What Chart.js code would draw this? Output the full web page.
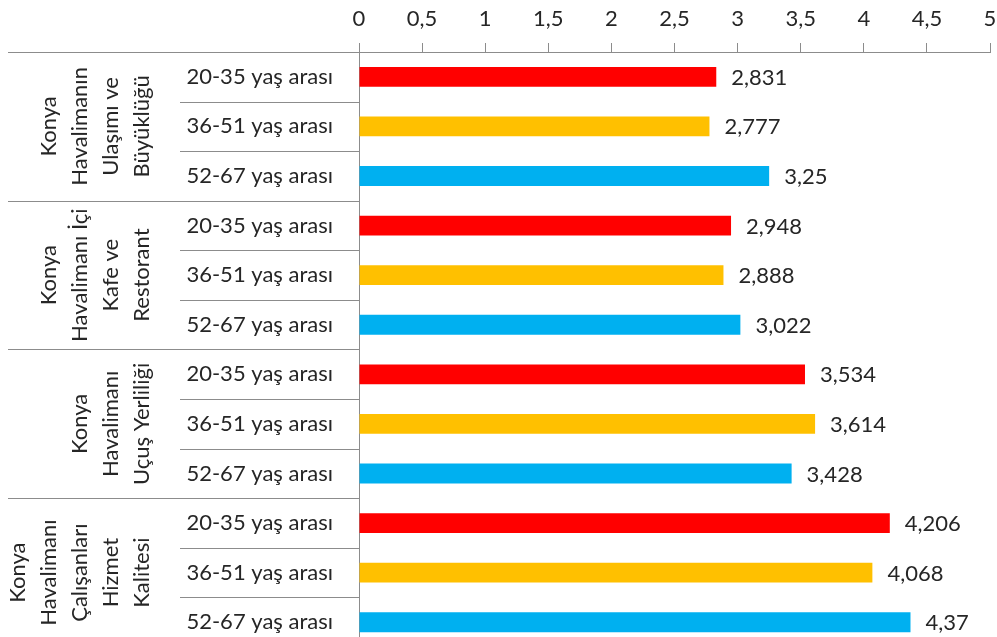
<!DOCTYPE html>
<html>
<head>
  <title>Konya Havalimanı</title>
  <script src="https://cdn.jsdelivr.net/npm/chart.js"></script>
  <style>
    html, body {
      margin: 0;
      padding: 0;
      background: #fff;
      overflow: hidden;
    }
    #wrap {
      width: 997px;
      height: 637px;
      overflow: hidden;
    }
  </style>
</head>
<body>
  <div id="wrap">
    <canvas id="ageChart" width="997" height="660"></canvas>
  </div>

  <script>
    // groups (one per rotated label on the left)
    const groupLabels = [
      ['Konya', 'Havalimanın', 'Ulaşımı ve', 'Büyüklüğü'],
      ['Konya', 'Havalimanı İçi', 'Kafe ve', 'Restorant'],
      ['Konya', 'Havalimanı', 'Uçuş Yerliliği'],
      ['Konya', 'Havalimanı', 'Çalışanları', 'Hizmet', 'Kalitesi']
    ];
    const ageLabels = ['20-35 yaş arası', '36-51 yaş arası', '52-67 yaş arası'];
    const values20_35 = [2.831, 2.948, 3.534, 4.206];
    const values36_51 = [2.777, 2.888, 3.614, 4.068];
    const values52_67 = [3.25, 3.022, 3.428, 4.37];
    const ageColors = ['#FF0000', '#FFC000', '#00B0F0'];
    const xTicks = [0, 0.5, 1, 1.5, 2, 2.5, 3, 3.5, 4, 4.5, 5];

    const FONT = 'Lato';
    const FSIZE = 22;
    const gray = '#8c8c8c';
    const textColor = '#262626';

    const series = [values20_35, values36_51, values52_67];
    const labels = [], data = [], colors = [];
    groupLabels.forEach((g, gi) => {
      ageLabels.forEach((a, ai) => {
        labels.push(a);
        data.push(series[ai][gi]);
        colors.push(ageColors[ai]);
      });
    });

    const fmt = v => String(v).replace('.', ',');

    const sidePlugin = {
      id: 'side',
      afterDraw(chart) {
        const c = chart.ctx;
        const y = chart.scales.y;
        const area = chart.chartArea;
        const step = y.getPixelForValue(1) - y.getPixelForValue(0);
        c.save();
        c.font = FSIZE + 'px ' + FONT;
        c.fillStyle = textColor;
        c.textBaseline = 'middle';

        // age labels
        c.textAlign = 'right';
        labels.forEach((l, i) => {
          c.fillText(l, area.left - 26, y.getPixelForValue(i));
        });

        // separators
        c.strokeStyle = gray;
        c.lineWidth = 1;
        for (let i = 0; i <= labels.length; i++) {
          const py = Math.round(y.getPixelForValue(i) - step / 2) + 0.5;
          const x0 = (i % 3 === 0) ? 8 : 180;
          c.beginPath();
          c.moveTo(x0, py);
          c.lineTo(area.left, py);
          c.stroke();
        }

        // rotated group labels
        c.textAlign = 'center';
        groupLabels.forEach((g, gi) => {
          const cy = (y.getPixelForValue(gi * 3) + y.getPixelForValue(gi * 3 + 2)) / 2;
          g.forEach((line, li) => {
            const lx = 142 - (g.length - 1 - li) * 31;
            c.save();
            c.translate(lx, cy);
            c.rotate(-Math.PI / 2);
            c.fillText(line, 0, 0);
            c.restore();
          });
        });

        // value labels
        c.textAlign = 'left';
        const x = chart.scales.x;
        data.forEach((v, i) => {
          c.fillText(fmt(v), x.getPixelForValue(v) + 15, y.getPixelForValue(i) + 1);
        });
        c.restore();
      }
    };

    new Chart(document.getElementById('ageChart'), {
      type: 'bar',
      data: {
        labels: labels,
        datasets: [{
          data: data,
          backgroundColor: colors,
          barPercentage: 0.4,
          categoryPercentage: 1
        }]
      },
      options: {
        indexAxis: 'y',
        responsive: false,
        animation: false,
        layout: { padding: { left: 0, right: 7, top: 0, bottom: 13 } },
        plugins: {
          legend: { display: false },
          tooltip: { enabled: false }
        },
        scales: {
          x: {
            position: 'top',
            min: 0,
            max: 5,
            afterBuildTicks: s => { s.ticks = xTicks.map(v => ({ value: v })); },
            afterFit: s => { s.height = 52; s.paddingLeft = 0; s.paddingRight = 0; },
            ticks: {
              padding: 11,
              color: textColor,
              font: { family: FONT, size: FSIZE },
              callback: v => fmt(v)
            },
            grid: {
              drawOnChartArea: false,
              drawTicks: true,
              tickLength: 9,
              color: gray
            },
            border: { display: true, color: gray }
          },
          y: {
            afterFit: s => { s.width = 359; },
            ticks: { display: false },
            grid: { display: false },
            border: { display: true, color: gray }
          }
        }
      },
      plugins: [sidePlugin]
    });
  </script>
</body>
</html>
